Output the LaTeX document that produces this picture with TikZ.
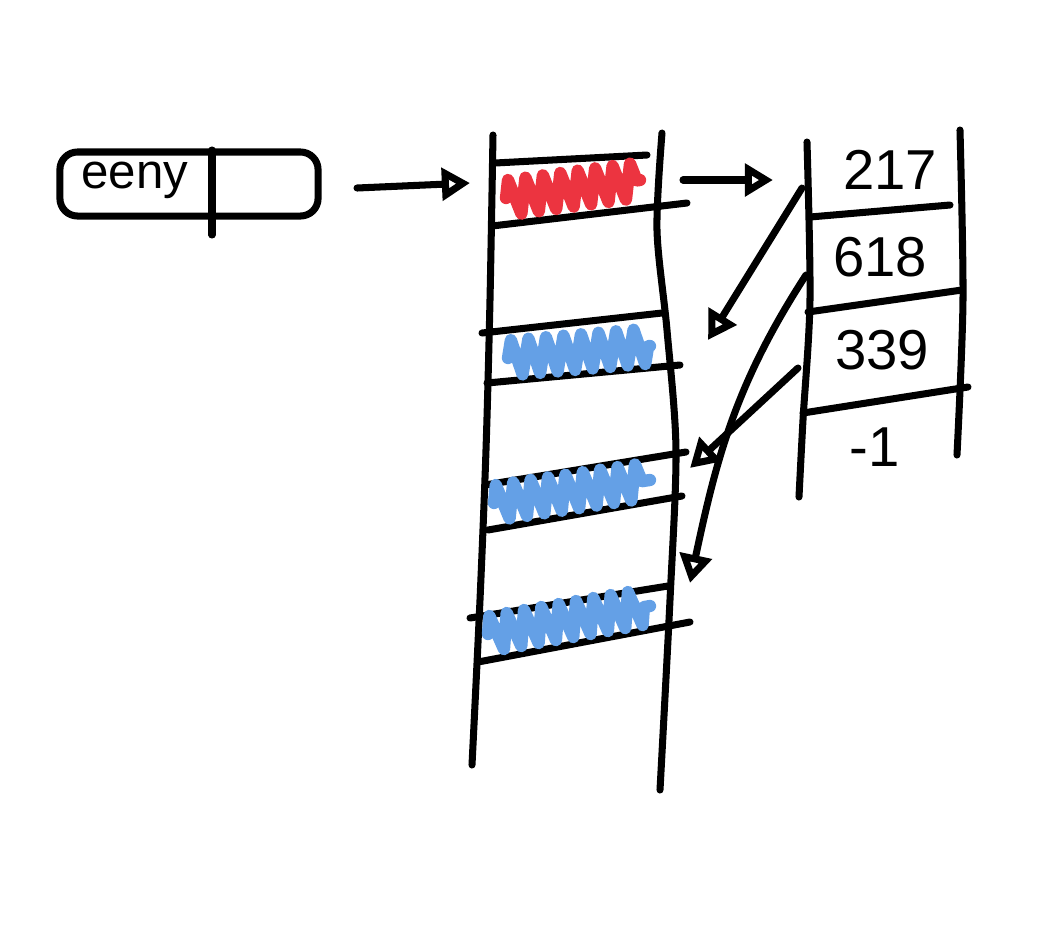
\documentclass[tikz,border=0pt]{standalone}
\usepackage{fontspec}
\setmainfont{Liberation Sans}
\usetikzlibrary{arrows.meta,decorations.pathmorphing}
\definecolor{scribred}{RGB}{236,52,64}
\definecolor{scribblue}{RGB}{100,160,230}
\begin{document}
\begin{tikzpicture}[x=0.01cm,y=-0.01cm,line width=2pt,line cap=round,line join=round,
	ptr/.style={-{Triangle[open,length=8pt,width=9pt]}},
	scrib/.style={line width=3.5pt,decorate,decoration={zigzag,segment length=5pt,amplitude=5pt}},
	num/.style={font=\fontsize{16}{20}\selectfont}]
\useasboundingbox (0,0) rectangle (1059,941);
\node [draw,rounded corners=5pt,minimum width=2.58cm,minimum height=0.64cm] (head) at (189,184) {};
\node [font=\fontsize{14}{16}\selectfont] (name) at (135,180) {eeny};
\draw (212,150) -- (212,235);
\draw plot[smooth] coordinates {(493,135) (490,300) (486,450) (480,600) (472,765)};
\draw plot[smooth] coordinates {(662,133) (657,230) (667,330) (676,450) (670,600) (660,790)};
\foreach \xa/\ya/\xb/\yb in {495/163/647/155, 492/226/687/203, 482/333/662/313, 487/383/680/365,
	485/485/686/452, 488/530/682/496, 470/618/668/586, 478/662/690/622}
	\draw (\xa,\ya) -- (\xb,\yb);
\draw [scrib,scribred] (506,198) -- (640,180);
\draw [scrib,scribblue] (508,358) -- (650,346);
\draw [scrib,scribblue] (494,503) -- (650,480);
\draw [scrib,scribblue] (488,634) -- (650,606);
\draw plot[smooth] coordinates {(807,142) (810,300) (803,420) (799,497)};
\draw plot[smooth] coordinates {(960,130) (963,300) (957,455)};
\draw (810,217) -- (950,205);
\draw (808,312) -- (962,290);
\draw (803,413) -- (968,387);
\node [num] (n217) at (890,170) {217};
\node [num] (n618) at (880,257) {618};
\node [num] (n339) at (882,350) {339};
\node [num] (n1) at (875,447) {-1};
\coordinate (headout) at (357,188);
\coordinate (c0) at (470,183);
\coordinate (c0r) at (683,180);
\coordinate (t0) at (773,180);
\coordinate (p217) at (802,188);
\coordinate (c1) at (708,340);
\coordinate (p618) at (806,275);
\coordinate (c3) at (690,583);
\coordinate (p339) at (798,368);
\coordinate (c2) at (690,468);
\draw [ptr] (headout) -- (c0);
\draw [ptr] (c0r) -- (t0);
\draw [ptr] (p217) -- (c1);
\draw [ptr] (p618) to[out=-123,in=78] (c3);
\draw [ptr] (p339) -- (c2);
\end{tikzpicture}
\end{document}
